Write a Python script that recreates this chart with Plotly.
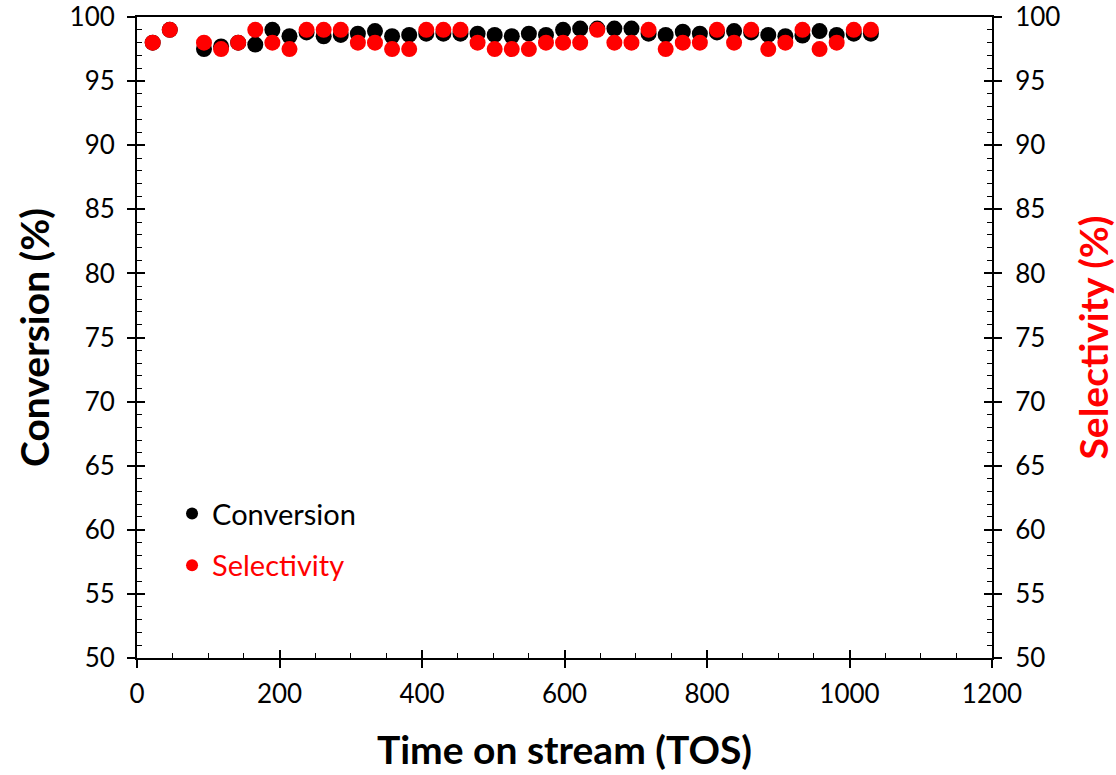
import plotly.graph_objects as go

tos = [22, 46, 94, 118, 142, 166, 190, 214, 238, 262, 286, 310, 334, 358, 382,
       406, 430, 454, 478, 502, 526, 550, 574, 598, 622, 646, 670, 694, 718, 742,
       766, 790, 814, 838, 862, 886, 910, 934, 958, 982, 1006, 1030]
conversion = [98.0, 99.0, 97.5, 97.7, 98.0, 97.85, 99.0, 98.5, 98.8, 98.5, 98.6, 98.7,
              98.9, 98.5, 98.6, 98.7, 98.7, 98.7, 98.7, 98.6, 98.5, 98.7, 98.6, 99.0,
              99.1, 99.1, 99.1, 99.1, 98.7, 98.6, 98.85, 98.7, 98.8, 98.9, 98.8, 98.6,
              98.5, 98.55, 98.9, 98.6, 98.7, 98.7]
selectivity = [98.0, 99.0, 98.0, 97.5, 98.0, 99.0, 98.0, 97.5, 99.0, 99.0, 99.0, 98.0,
               98.0, 97.5, 97.5, 99.0, 99.0, 99.0, 98.0, 97.5, 97.5, 97.5, 98.0, 98.0,
               98.0, 99.0, 98.0, 98.0, 99.0, 97.5, 98.0, 98.0, 99.0, 98.0, 99.0, 97.5,
               98.0, 99.0, 97.5, 98.0, 99.0, 99.0]

FONT = "Lato"
fig = go.Figure()
fig.add_trace(go.Scatter(x=tos, y=conversion, mode="markers", name="Conversion",
                         marker=dict(color="black", size=16), legendgroup="a"))
fig.add_trace(go.Scatter(x=tos, y=selectivity, mode="markers",
                         name="<span style='color:#ff0000'>Selectivity</span>",
                         marker=dict(color="#ff0000", size=16), yaxis="y2", legendgroup="b"))
# invisible helper traces for inner tick overlays
fig.add_trace(go.Scatter(x=[], y=[], xaxis="x3", yaxis="y3", showlegend=False))
fig.add_trace(go.Scatter(x=[], y=[], xaxis="x3", yaxis="y4", showlegend=False))

tickfont = dict(family=FONT, size=26, color="black")
TITLE_SIZE = 39
common = dict(showgrid=False, zeroline=False, linecolor="black", linewidth=2,
              automargin=False)
inner = dict(showticklabels=False, showline=False, showgrid=False, zeroline=False,
             automargin=False, tickcolor="black", tickwidth=1.5, ticklen=8,
             ticks="inside")

fig.update_layout(
    width=1116, height=775,
    margin=dict(l=137, r=124, t=17, b=117),
    plot_bgcolor="white", paper_bgcolor="white",
    font=dict(family=FONT, color="black"),
    showlegend=True,
    legend=dict(x=0.041, y=0.265, xanchor="left", yanchor="top",
                font=dict(family=FONT, size=29, color="black"),
                bgcolor="rgba(0,0,0,0)", tracegroupgap=11, itemsizing="constant"),
    xaxis=dict(range=[0, 1200], dtick=200, tick0=0, ticks="outside", ticklen=8,
               tickwidth=1.5, tickcolor="black", showline=True, mirror=True,
               tickfont=tickfont, ticklabelstandoff=4,
               title=dict(text="<b>Time on stream (TOS)</b>",
                          font=dict(family=FONT, size=TITLE_SIZE, color="black"),
                          standoff=28),
               **common),
    yaxis=dict(range=[50, 100], dtick=5, ticks="outside", ticklen=8, tickwidth=1.5,
               tickcolor="black", showline=True, tickfont=tickfont,
               ticklabelstandoff=7,
               title=dict(text="<b>Conversion (%)</b>",
                          font=dict(family=FONT, size=TITLE_SIZE, color="black"),
                          standoff=8),
               **common),
    yaxis2=dict(range=[50, 100], dtick=5, ticks="outside", ticklen=8, tickwidth=1.5,
                tickcolor="black", showline=True, overlaying="y", side="right",
                tickfont=tickfont, ticklabelstandoff=8,
                title=dict(text="<b>Selectivity (%)</b>",
                           font=dict(family=FONT, size=TITLE_SIZE, color="#ff0000"),
                           standoff=22),
                **common),
    xaxis3=dict(matches="x", overlaying="x", side="bottom", anchor="y3",
                dtick=200, tick0=0,
                minor=dict(dtick=50, ticks="inside", ticklen=5, tickwidth=1.2,
                           tickcolor="black"), **inner),
    yaxis3=dict(matches="y", overlaying="y", side="left", anchor="x3", dtick=5,
                minor=dict(dtick=1, ticks="inside", ticklen=5, tickwidth=1.2,
                           tickcolor="black"), **inner),
    yaxis4=dict(matches="y", overlaying="y", side="right", anchor="x3", dtick=5,
                minor=dict(dtick=1, ticks="inside", ticklen=5, tickwidth=1.2,
                           tickcolor="black"), **inner),
)

fig.write_html("out.html", config={"displayModeBar": False},
               post_script="document.body.style.margin='0';document.body.style.overflow='hidden';")
